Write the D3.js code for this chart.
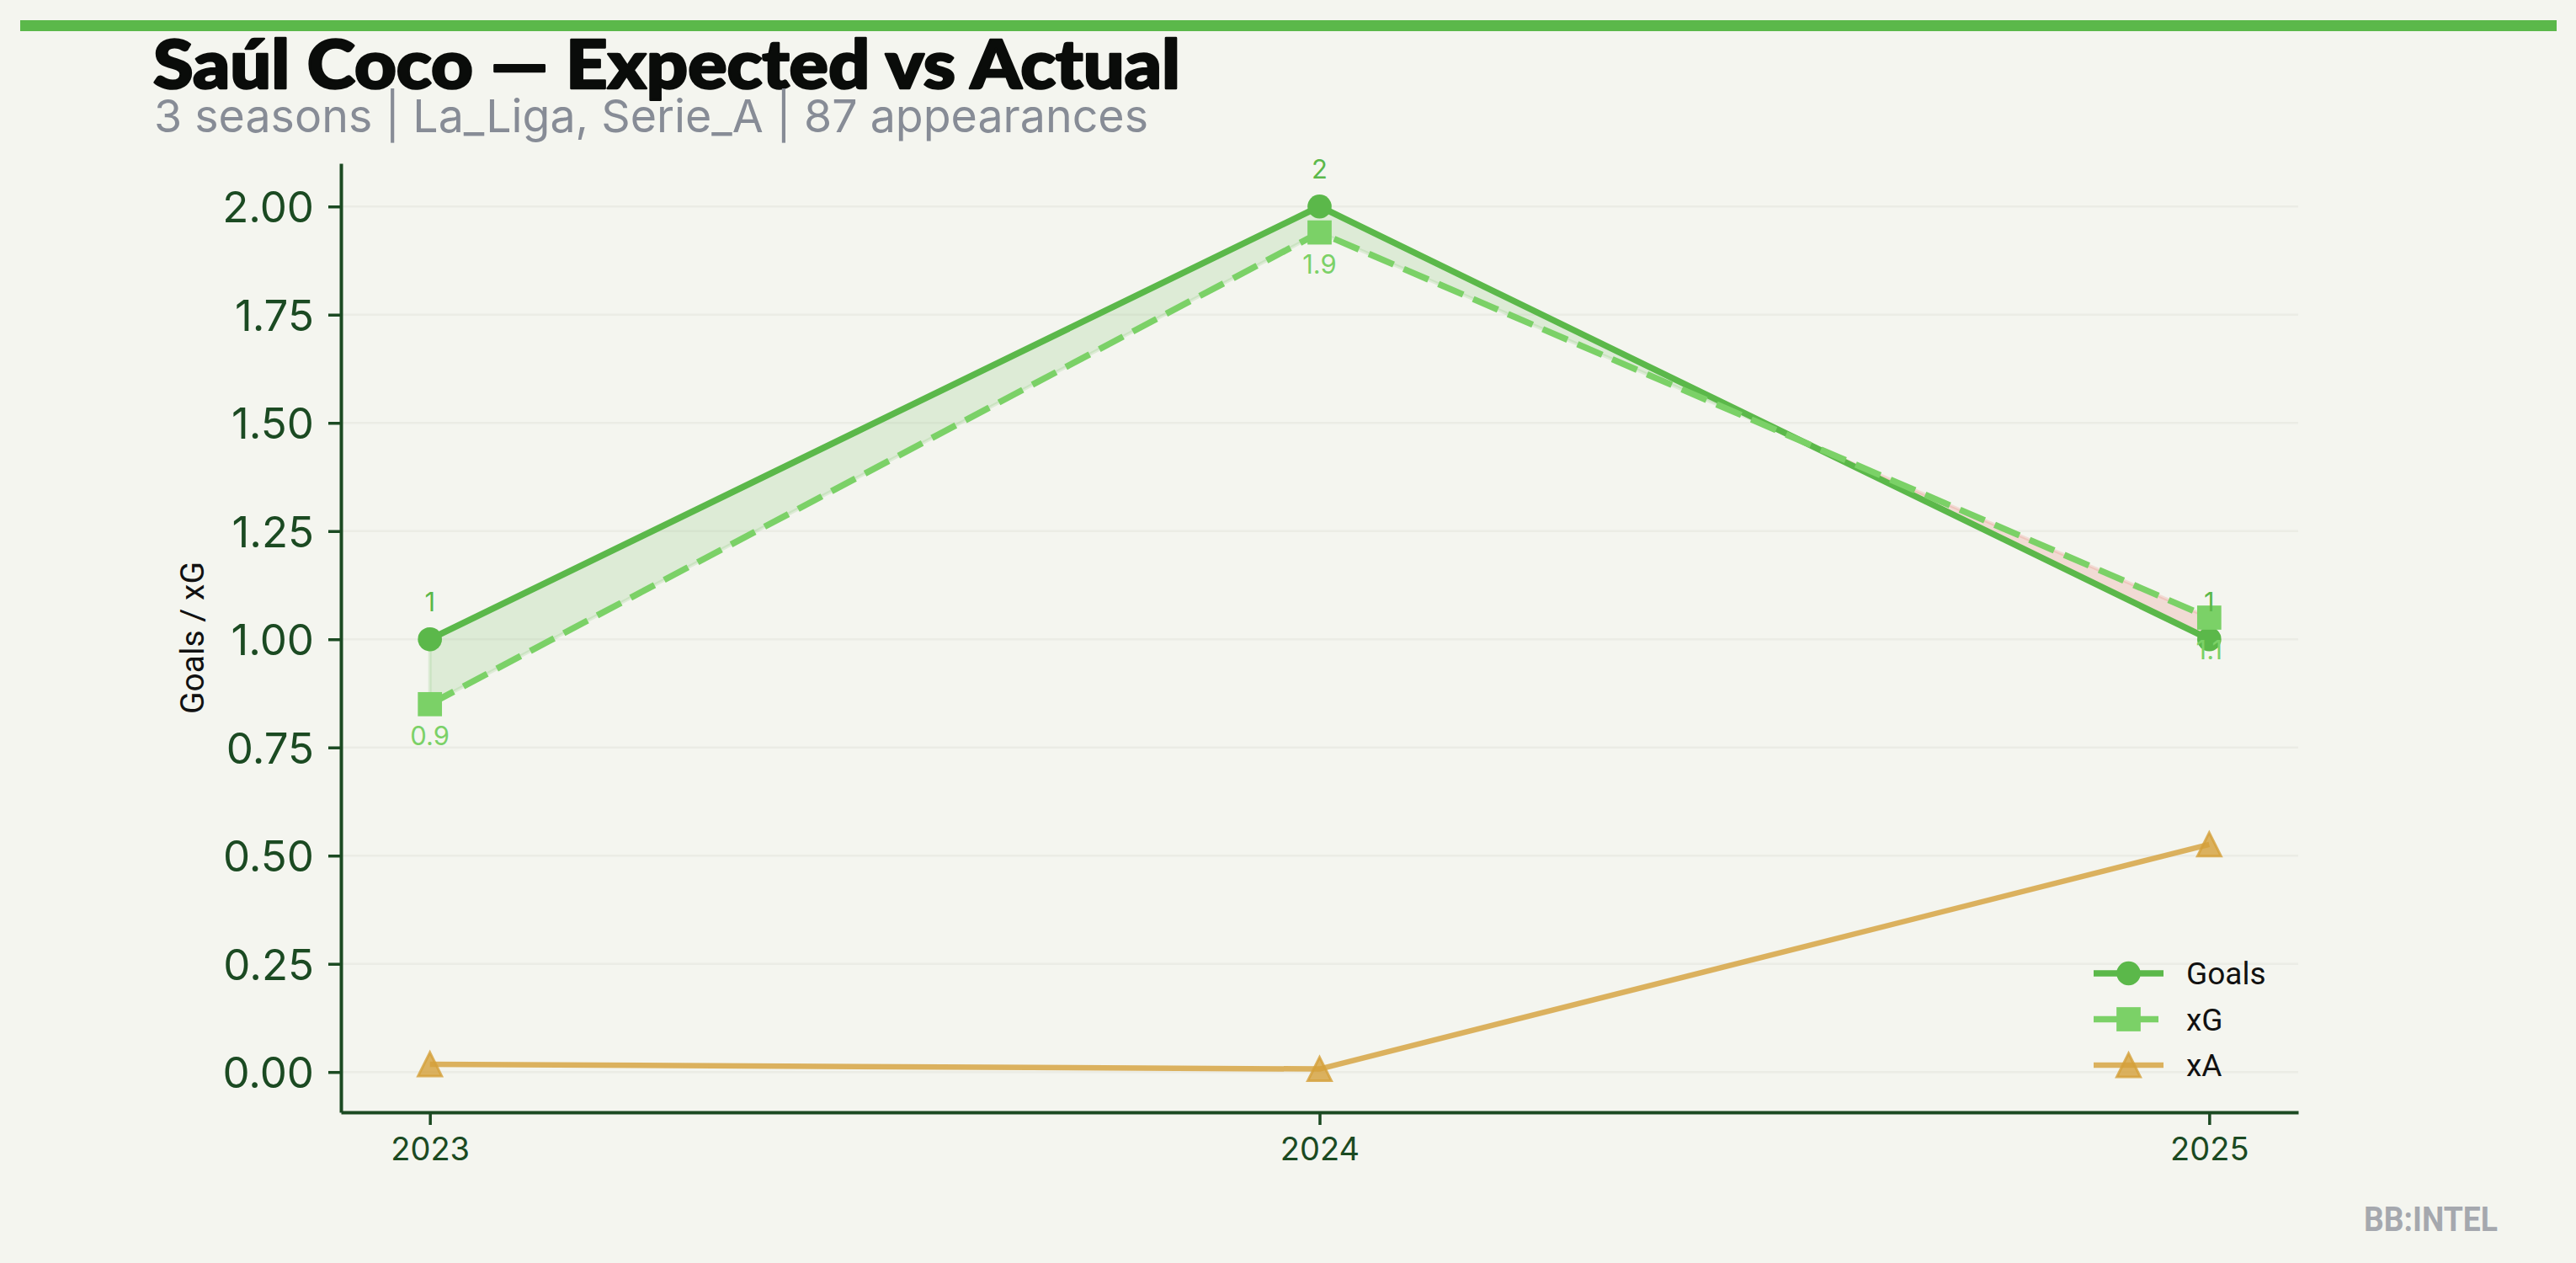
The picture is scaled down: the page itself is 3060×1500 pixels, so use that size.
<!DOCTYPE html>
<html><head><meta charset="utf-8">
<script src="https://cdn.jsdelivr.net/npm/d3@7"></script>
<style>body{margin:0;background:#F4F5EF;} svg{display:block}</style>
</head><body>
<svg id="c" width="3060" height="1500"></svg>
<script>
// ---- data ----
const seasons = [2023, 2024, 2025];
const goals = [1, 2, 1];
const xg = [0.85, 1.94, 1.05];
const xa = [0.018, 0.007, 0.526];
const goalLabels = ["1", "2", "1"];
const xgLabels = ["0.9", "1.9", "1.1"];
const yTicks = [0, 0.25, 0.5, 0.75, 1, 1.25, 1.5, 1.75, 2];
const seriesNames = ["Goals", "xG", "xA"];
const titleText = "Saúl Coco — Expected vs Actual";
const subtitleText = "3 seasons | La_Liga, Serie_A | 87 appearances";
const yLabelText = "Goals / xG";
const brandText = "BB:INTEL";

// ---- style ----
const BG = "#F4F5EF", GREEN = "#5BB84A", XGC = "#7BD167", XAC = "#D4A03A", RED = "#E74C3C";
const AXC = "#1B4A22";
const svg = d3.select("#c");
svg.append("rect").attr("width", 3060).attr("height", 1500).attr("fill", BG);

const x = d3.scaleLinear().domain([2022.9, 2025.1]).range([405, 2730]);
const y = d3.scaleLinear().domain([-0.093, 2.0997]).range([1321, 194]);

// top bar
svg.append("rect").attr("x", 24).attr("y", 24).attr("width", 3013).attr("height", 13).attr("fill", GREEN);

// title & subtitle
svg.append("text").attr("x", 182).attr("y", 105).text(titleText)
  .attr("font-family", "Lato, 'Noto Sans', sans-serif").attr("font-weight", 900)
  .attr("font-size", 80).attr("fill", "#0A0C0A")
  .attr("stroke", "#0A0C0A").attr("stroke-width", 2.5).attr("stroke-linejoin", "round")
  .attr("textLength", 1220).attr("lengthAdjust", "spacingAndGlyphs");
svg.append("text").attr("x", 183).attr("y", 157).text(subtitleText)
  .attr("font-family", "Inter, sans-serif").attr("font-size", 54).attr("fill", "#878C96")
  .attr("textLength", 1181).attr("lengthAdjust", "spacingAndGlyphs");

// grid
svg.append("g").selectAll("line").data(yTicks).join("line")
  .attr("x1", x.range()[0]).attr("x2", x.range()[1])
  .attr("y1", d => y(d)).attr("y2", d => y(d))
  .attr("stroke", "#E8E9E2").attr("stroke-width", 2.5).attr("opacity", 0.7);

// fill between goals & xG with interpolation at crossings
const pts = [];
for (let i = 0; i < seasons.length; i++) {
  pts.push({s: seasons[i], g: goals[i], e: xg[i]});
  if (i < seasons.length - 1) {
    const d0 = goals[i] - xg[i], d1 = goals[i+1] - xg[i+1];
    if (d0 * d1 < 0) {
      const t = d0 / (d0 - d1);
      const s = seasons[i] + t * (seasons[i+1] - seasons[i]);
      const g = goals[i] + t * (goals[i+1] - goals[i]);
      pts.push({s, g, e: g, cross: true});
    }
  }
}
const regions = [];
let cur = null;
pts.forEach((p) => {
  const sign = p.cross ? null : (p.g >= p.e ? 1 : -1);
  if (p.cross) { if (cur) { cur.pts.push(p); regions.push(cur); } cur = {sign: null, pts: [p]}; return; }
  if (!cur) cur = {sign, pts: []};
  if (cur.sign === null) cur.sign = sign;
  cur.pts.push(p);
});
if (cur) regions.push(cur);
const area = d3.area().x(d => x(d.s)).y0(d => y(d.e)).y1(d => y(d.g));
svg.append("g").selectAll("path").data(regions).join("path")
  .attr("d", r => area(r.pts))
  .attr("fill", r => r.sign > 0 ? GREEN : RED).attr("fill-opacity", 0.15)
  .attr("stroke", r => r.sign > 0 ? GREEN : RED).attr("stroke-opacity", 0.15).attr("stroke-width", 4);

const line = d3.line().x(d => x(d[0])).y(d => y(d[1]));
const sq = 28.7, cr = 14.3, th = 28;
const triPath = `M0,${-th/2}L${th/2},${th/2}L${-th/2},${th/2}Z`;

// xA
const xaData = seasons.map((s, i) => [s, xa[i]]);
svg.append("path").attr("d", line(xaData)).attr("fill", "none")
  .attr("stroke", XAC).attr("stroke-opacity", 0.8).attr("stroke-width", 6.5).attr("stroke-linejoin", "round");
svg.append("g").selectAll("path").data(xaData).join("path")
  .attr("transform", d => `translate(${x(d[0])},${y(d[1])})`).attr("d", triPath)
  .attr("fill", XAC).attr("fill-opacity", 0.8).attr("stroke", XAC).attr("stroke-opacity", 0.8).attr("stroke-width", 3);

// Goals
const gData = seasons.map((s, i) => [s, goals[i]]);
svg.append("path").attr("d", line(gData)).attr("fill", "none")
  .attr("stroke", GREEN).attr("stroke-width", 7.5).attr("stroke-linejoin", "round");
svg.append("g").selectAll("circle").data(gData).join("circle")
  .attr("cx", d => x(d[0])).attr("cy", d => y(d[1])).attr("r", cr).attr("fill", GREEN);

// xG
const eData = seasons.map((s, i) => [s, xg[i]]);
svg.append("path").attr("d", line(eData)).attr("fill", "none")
  .attr("stroke", XGC).attr("stroke-width", 7.5).attr("stroke-dasharray", "32,13");
svg.append("g").selectAll("rect").data(eData).join("rect")
  .attr("x", d => x(d[0]) - sq/2).attr("y", d => y(d[1]) - sq/2)
  .attr("width", sq).attr("height", sq).attr("fill", XGC);

// value labels
svg.append("g").selectAll("text").data(gData).join("text")
  .attr("x", d => x(d[0])).attr("y", d => y(d[1]) - 33).attr("text-anchor", "middle")
  .attr("font-family", "Inter, sans-serif").attr("font-size", 31).attr("fill", GREEN)
  .text((d, i) => goalLabels[i]);
svg.append("g").selectAll("text").data(eData).join("text")
  .attr("x", d => x(d[0])).attr("y", d => y(d[1]) + 49).attr("text-anchor", "middle")
  .attr("font-family", "Inter, sans-serif").attr("font-size", 31).attr("fill", XGC)
  .text((d, i) => xgLabels[i]);

// axes
const yAxis = svg.append("g").attr("transform", `translate(${x.range()[0]},0)`)
  .call(d3.axisLeft(y).tickValues(yTicks).tickFormat(d3.format(".2f")).tickSize(15).tickPadding(17).tickSizeOuter(0));
const xAxis = svg.append("g").attr("transform", `translate(0,${y.range()[0]})`)
  .call(d3.axisBottom(x).tickValues(seasons).tickFormat(d3.format("d")).tickSize(15).tickPadding(15).tickSizeOuter(0));
[yAxis, xAxis].forEach(a => {
  a.select(".domain").attr("stroke", AXC).attr("stroke-width", 4);
  a.selectAll(".tick line").attr("stroke", AXC).attr("stroke-width", 3.5);
  a.selectAll(".tick text").attr("fill", AXC).attr("font-family", "Inter, sans-serif");
});
yAxis.selectAll(".tick text").attr("font-size", 51).attr("dy", "0.36em");
xAxis.selectAll(".tick text").attr("font-size", 38);

// y label
svg.append("text").attr("transform", `translate(242,${(y.range()[0] + y.range()[1]) / 2}) rotate(-90)`)
  .attr("text-anchor", "middle").attr("font-family", "Roboto, sans-serif").attr("font-size", 39)
  .attr("fill", "#111").text(yLabelText);

// legend
const legStyles = [
  {c: GREEN, w: 7.5, dash: null, m: "circle", op: 1},
  {c: XGC, w: 7.5, dash: "32,13", m: "square", op: 1},
  {c: XAC, w: 6.5, dash: null, m: "tri", op: 0.8}
];
const leg = svg.append("g").selectAll("g").data(seriesNames).join("g")
  .attr("transform", (d, i) => `translate(0,${1156 + i * 54.5})`);
leg.append("line").attr("x1", 2487).attr("x2", 2570).attr("y1", 0).attr("y2", 0)
  .attr("stroke", (d, i) => legStyles[i].c).attr("stroke-width", (d, i) => legStyles[i].w)
  .attr("stroke-opacity", (d, i) => legStyles[i].op)
  .attr("stroke-dasharray", (d, i) => legStyles[i].dash);
leg.each(function(d, i) {
  const g = d3.select(this), st = legStyles[i];
  if (st.m === "circle") g.append("circle").attr("cx", 2528.5).attr("cy", 0).attr("r", cr).attr("fill", st.c);
  else if (st.m === "square") g.append("rect").attr("x", 2528.5 - sq/2).attr("y", -sq/2).attr("width", sq).attr("height", sq).attr("fill", st.c);
  else g.append("path").attr("transform", "translate(2528.5,0)").attr("d", triPath)
    .attr("fill", st.c).attr("fill-opacity", 0.8).attr("stroke", st.c).attr("stroke-opacity", 0.8).attr("stroke-width", 3);
});
leg.append("text").attr("x", 2597).attr("y", 0).attr("dy", "0.36em")
  .attr("font-family", "Roboto, sans-serif").attr("font-size", 37).attr("fill", "#111").text(d => d);

// brand
svg.append("text").attr("x", 2808).attr("y", 1462).text(brandText)
  .attr("font-family", "Roboto, sans-serif").attr("font-weight", 700).attr("font-size", 40)
  .attr("fill", "#A5A8AE").attr("textLength", 159).attr("lengthAdjust", "spacingAndGlyphs");
</script>
</body></html>
